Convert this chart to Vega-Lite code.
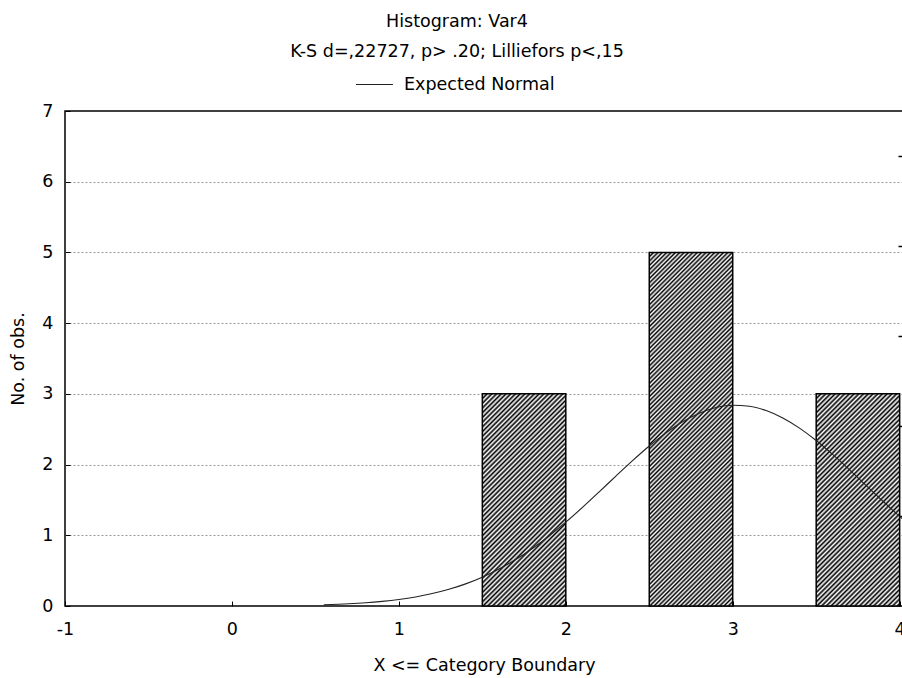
{
  "$schema": "https://vega.github.io/schema/vega-lite/v6.json",
  "width": 838,
  "height": 495,
  "autosize": {"type": "none"},
  "padding": {"left": 65, "top": 111, "right": 0, "bottom": 72},
  "background": "white",
  "config": {
    "font": "DejaVu Sans",
    "view": {"stroke": "#000", "strokeWidth": 1.5}
  },
  "title": {
    "text": "Histogram: Var4",
    "subtitle": "K-S d=,22727, p> .20; Lilliefors p<,15",
    "anchor": "middle",
    "dx": -27,
    "fontSize": 17.5,
    "fontWeight": "normal",
    "subtitleFontSize": 17.5,
    "color": "#000",
    "subtitleColor": "#000",
    "subtitlePadding": 12,
    "offset": 5
  },
  "datasets": {
    "bars": [
      {"x0": 1.5, "x1": 2, "count": 3},
      {"x0": 2.5, "x1": 3, "count": 5},
      {"x0": 3.5, "x1": 4, "count": 3}
    ],
    "curve": [
      {"x": 0.55, "y": 0.017}, {"x": 0.7, "y": 0.031}, {"x": 0.8, "y": 0.045},
      {"x": 0.9, "y": 0.065}, {"x": 1.0, "y": 0.092}, {"x": 1.1, "y": 0.128},
      {"x": 1.2, "y": 0.176}, {"x": 1.3, "y": 0.236}, {"x": 1.4, "y": 0.313},
      {"x": 1.5, "y": 0.407}, {"x": 1.6, "y": 0.522}, {"x": 1.7, "y": 0.657},
      {"x": 1.8, "y": 0.813}, {"x": 1.9, "y": 0.99}, {"x": 2.0, "y": 1.185},
      {"x": 2.1, "y": 1.395}, {"x": 2.2, "y": 1.614}, {"x": 2.3, "y": 1.837},
      {"x": 2.4, "y": 2.056}, {"x": 2.5, "y": 2.263}, {"x": 2.6, "y": 2.449},
      {"x": 2.7, "y": 2.606}, {"x": 2.8, "y": 2.727}, {"x": 2.9, "y": 2.806},
      {"x": 3.0, "y": 2.839}, {"x": 3.1, "y": 2.825}, {"x": 3.2, "y": 2.764},
      {"x": 3.3, "y": 2.659}, {"x": 3.4, "y": 2.515}, {"x": 3.5, "y": 2.34},
      {"x": 3.6, "y": 2.14}, {"x": 3.7, "y": 1.925}, {"x": 3.8, "y": 1.703},
      {"x": 3.9, "y": 1.481}, {"x": 4.0, "y": 1.267}, {"x": 4.1, "y": 1.066}
    ]
  },
  "layer": [
    {
      "data": {"name": "bars"},
      "transform": [{"filter": "datum.count == 3"}],
      "mark": {
        "type": "rect",
        "stroke": "#000",
        "strokeWidth": 1.5,
        "fill": {
          "gradient": "linear", "x1": 0, "y1": 0, "x2": 0.47479, "y2": 1.20666,
          "stops": [
            {"offset":0,"color":"#000"},{"offset":0.008,"color":"#fff"},{"offset":0.016,"color":"#000"},{"offset":0.024,"color":"#fff"},
            {"offset":0.032,"color":"#000"},{"offset":0.04,"color":"#fff"},{"offset":0.048,"color":"#000"},{"offset":0.056,"color":"#fff"},
            {"offset":0.064,"color":"#000"},{"offset":0.072,"color":"#fff"},{"offset":0.08,"color":"#000"},{"offset":0.088,"color":"#fff"},
            {"offset":0.096,"color":"#000"},{"offset":0.104,"color":"#fff"},{"offset":0.112,"color":"#000"},{"offset":0.12,"color":"#fff"},
            {"offset":0.128,"color":"#000"},{"offset":0.136,"color":"#fff"},{"offset":0.144,"color":"#000"},{"offset":0.152,"color":"#fff"},
            {"offset":0.16,"color":"#000"},{"offset":0.168,"color":"#fff"},{"offset":0.176,"color":"#000"},{"offset":0.184,"color":"#fff"},
            {"offset":0.192,"color":"#000"},{"offset":0.2,"color":"#fff"},{"offset":0.208,"color":"#000"},{"offset":0.216,"color":"#fff"},
            {"offset":0.224,"color":"#000"},{"offset":0.232,"color":"#fff"},{"offset":0.24,"color":"#000"},{"offset":0.248,"color":"#fff"},
            {"offset":0.256,"color":"#000"},{"offset":0.264,"color":"#fff"},{"offset":0.272,"color":"#000"},{"offset":0.28,"color":"#fff"},
            {"offset":0.288,"color":"#000"},{"offset":0.296,"color":"#fff"},{"offset":0.304,"color":"#000"},{"offset":0.312,"color":"#fff"},
            {"offset":0.32,"color":"#000"},{"offset":0.328,"color":"#fff"},{"offset":0.336,"color":"#000"},{"offset":0.344,"color":"#fff"},
            {"offset":0.352,"color":"#000"},{"offset":0.36,"color":"#fff"},{"offset":0.368,"color":"#000"},{"offset":0.376,"color":"#fff"},
            {"offset":0.384,"color":"#000"},{"offset":0.392,"color":"#fff"},{"offset":0.4,"color":"#000"},{"offset":0.408,"color":"#fff"},
            {"offset":0.416,"color":"#000"},{"offset":0.424,"color":"#fff"},{"offset":0.432,"color":"#000"},{"offset":0.44,"color":"#fff"},
            {"offset":0.448,"color":"#000"},{"offset":0.456,"color":"#fff"},{"offset":0.464,"color":"#000"},{"offset":0.472,"color":"#fff"},
            {"offset":0.48,"color":"#000"},{"offset":0.488,"color":"#fff"},{"offset":0.496,"color":"#000"},{"offset":0.504,"color":"#fff"},
            {"offset":0.512,"color":"#000"},{"offset":0.52,"color":"#fff"},{"offset":0.528,"color":"#000"},{"offset":0.536,"color":"#fff"},
            {"offset":0.544,"color":"#000"},{"offset":0.552,"color":"#fff"},{"offset":0.56,"color":"#000"},{"offset":0.568,"color":"#fff"},
            {"offset":0.576,"color":"#000"},{"offset":0.584,"color":"#fff"},{"offset":0.592,"color":"#000"},{"offset":0.6,"color":"#fff"},
            {"offset":0.608,"color":"#000"},{"offset":0.616,"color":"#fff"},{"offset":0.624,"color":"#000"},{"offset":0.632,"color":"#fff"},
            {"offset":0.64,"color":"#000"},{"offset":0.648,"color":"#fff"},{"offset":0.656,"color":"#000"},{"offset":0.664,"color":"#fff"},
            {"offset":0.672,"color":"#000"},{"offset":0.68,"color":"#fff"},{"offset":0.688,"color":"#000"},{"offset":0.696,"color":"#fff"},
            {"offset":0.704,"color":"#000"},{"offset":0.712,"color":"#fff"},{"offset":0.72,"color":"#000"},{"offset":0.728,"color":"#fff"},
            {"offset":0.736,"color":"#000"},{"offset":0.744,"color":"#fff"},{"offset":0.752,"color":"#000"},{"offset":0.76,"color":"#fff"},
            {"offset":0.768,"color":"#000"},{"offset":0.776,"color":"#fff"},{"offset":0.784,"color":"#000"},{"offset":0.792,"color":"#fff"},
            {"offset":0.8,"color":"#000"},{"offset":0.808,"color":"#fff"},{"offset":0.816,"color":"#000"},{"offset":0.824,"color":"#fff"},
            {"offset":0.832,"color":"#000"},{"offset":0.84,"color":"#fff"},{"offset":0.848,"color":"#000"},{"offset":0.856,"color":"#fff"},
            {"offset":0.864,"color":"#000"},{"offset":0.872,"color":"#fff"},{"offset":0.88,"color":"#000"},{"offset":0.888,"color":"#fff"},
            {"offset":0.896,"color":"#000"},{"offset":0.904,"color":"#fff"},{"offset":0.912,"color":"#000"},{"offset":0.92,"color":"#fff"},
            {"offset":0.928,"color":"#000"},{"offset":0.936,"color":"#fff"},{"offset":0.944,"color":"#000"},{"offset":0.952,"color":"#fff"},
            {"offset":0.96,"color":"#000"},{"offset":0.968,"color":"#fff"},{"offset":0.976,"color":"#000"},{"offset":0.984,"color":"#fff"},
            {"offset":0.992,"color":"#000"},{"offset":1,"color":"#fff"}
          ]
        }
      },
      "encoding": {
        "x": {
          "field": "x0", "type": "quantitative",
          "scale": {"domain": [-1, 4.02], "nice": false, "zero": false},
          "axis": {
            "title": "X <= Category Boundary",
            "values": [-1, 0, 1, 2, 3, 4],
            "labelExpr": "datum.value < 0 ? '-' + abs(datum.value) : '' + datum.value",
            "grid": false,
            "domain": false,
            "tickSize": -5,
            "tickColor": "#000",
            "labelFontSize": 17.5,
            "labelColor": "#000",
            "labelPadding": 19,
            "labelFlush": false,
            "titleFontSize": 17.5,
            "titleFontWeight": "normal",
            "titleColor": "#000",
            "titleY": 59,
            "titleBaseline": "middle"
          }
        },
        "x2": {"field": "x1"},
        "y": {
          "field": "count", "type": "quantitative",
          "scale": {"domain": [0, 7], "nice": false},
          "axis": {
            "title": "No. of obs.",
            "values": [0, 1, 2, 3, 4, 5, 6, 7],
            "format": "d",
            "domain": false,
            "tickSize": -5,
            "tickColor": "#000",
            "labelFontSize": 17.5,
            "labelColor": "#000",
            "labelPadding": 17,
            "grid": true,
            "gridColor": "#999",
            "gridDash": [2, 2],
            "gridOpacity": {"condition": {"test": "datum.value === 0 || datum.value === 7", "value": 0}, "value": 1},
            "titleFontSize": 17.5,
            "titleFontWeight": "normal",
            "titleColor": "#000",
            "titleAngle": -90,
            "titleX": -47,
            "titleY": 247.5,
            "titleAlign": "center",
            "titleBaseline": "middle"
          }
        },
        "y2": {"datum": 0}
      }
    },
    {
      "data": {"name": "bars"},
      "transform": [{"filter": "datum.count == 5"}],
      "mark": {
        "type": "rect",
        "stroke": "#000",
        "strokeWidth": 1.5,
        "fill": {
          "gradient": "linear", "x1": 0, "y1": 0, "x2": 0.27641, "y2": 1.17083,
          "stops": [
            {"offset":0,"color":"#000"},{"offset":0.005,"color":"#fff"},{"offset":0.01,"color":"#000"},{"offset":0.015,"color":"#fff"},
            {"offset":0.02,"color":"#000"},{"offset":0.025,"color":"#fff"},{"offset":0.03,"color":"#000"},{"offset":0.035,"color":"#fff"},
            {"offset":0.04,"color":"#000"},{"offset":0.045,"color":"#fff"},{"offset":0.05,"color":"#000"},{"offset":0.055,"color":"#fff"},
            {"offset":0.06,"color":"#000"},{"offset":0.065,"color":"#fff"},{"offset":0.07,"color":"#000"},{"offset":0.075,"color":"#fff"},
            {"offset":0.08,"color":"#000"},{"offset":0.085,"color":"#fff"},{"offset":0.09,"color":"#000"},{"offset":0.095,"color":"#fff"},
            {"offset":0.1,"color":"#000"},{"offset":0.105,"color":"#fff"},{"offset":0.11,"color":"#000"},{"offset":0.115,"color":"#fff"},
            {"offset":0.12,"color":"#000"},{"offset":0.125,"color":"#fff"},{"offset":0.13,"color":"#000"},{"offset":0.135,"color":"#fff"},
            {"offset":0.14,"color":"#000"},{"offset":0.145,"color":"#fff"},{"offset":0.15,"color":"#000"},{"offset":0.155,"color":"#fff"},
            {"offset":0.16,"color":"#000"},{"offset":0.165,"color":"#fff"},{"offset":0.17,"color":"#000"},{"offset":0.175,"color":"#fff"},
            {"offset":0.18,"color":"#000"},{"offset":0.185,"color":"#fff"},{"offset":0.19,"color":"#000"},{"offset":0.195,"color":"#fff"},
            {"offset":0.2,"color":"#000"},{"offset":0.205,"color":"#fff"},{"offset":0.21,"color":"#000"},{"offset":0.215,"color":"#fff"},
            {"offset":0.22,"color":"#000"},{"offset":0.225,"color":"#fff"},{"offset":0.23,"color":"#000"},{"offset":0.235,"color":"#fff"},
            {"offset":0.24,"color":"#000"},{"offset":0.245,"color":"#fff"},{"offset":0.25,"color":"#000"},{"offset":0.255,"color":"#fff"},
            {"offset":0.26,"color":"#000"},{"offset":0.265,"color":"#fff"},{"offset":0.27,"color":"#000"},{"offset":0.275,"color":"#fff"},
            {"offset":0.28,"color":"#000"},{"offset":0.285,"color":"#fff"},{"offset":0.29,"color":"#000"},{"offset":0.295,"color":"#fff"},
            {"offset":0.3,"color":"#000"},{"offset":0.305,"color":"#fff"},{"offset":0.31,"color":"#000"},{"offset":0.315,"color":"#fff"},
            {"offset":0.32,"color":"#000"},{"offset":0.325,"color":"#fff"},{"offset":0.33,"color":"#000"},{"offset":0.335,"color":"#fff"},
            {"offset":0.34,"color":"#000"},{"offset":0.345,"color":"#fff"},{"offset":0.35,"color":"#000"},{"offset":0.355,"color":"#fff"},
            {"offset":0.36,"color":"#000"},{"offset":0.365,"color":"#fff"},{"offset":0.37,"color":"#000"},{"offset":0.375,"color":"#fff"},
            {"offset":0.38,"color":"#000"},{"offset":0.385,"color":"#fff"},{"offset":0.39,"color":"#000"},{"offset":0.395,"color":"#fff"},
            {"offset":0.4,"color":"#000"},{"offset":0.405,"color":"#fff"},{"offset":0.41,"color":"#000"},{"offset":0.415,"color":"#fff"},
            {"offset":0.42,"color":"#000"},{"offset":0.425,"color":"#fff"},{"offset":0.43,"color":"#000"},{"offset":0.435,"color":"#fff"},
            {"offset":0.44,"color":"#000"},{"offset":0.445,"color":"#fff"},{"offset":0.45,"color":"#000"},{"offset":0.455,"color":"#fff"},
            {"offset":0.46,"color":"#000"},{"offset":0.465,"color":"#fff"},{"offset":0.47,"color":"#000"},{"offset":0.475,"color":"#fff"},
            {"offset":0.48,"color":"#000"},{"offset":0.485,"color":"#fff"},{"offset":0.49,"color":"#000"},{"offset":0.495,"color":"#fff"},
            {"offset":0.5,"color":"#000"},{"offset":0.505,"color":"#fff"},{"offset":0.51,"color":"#000"},{"offset":0.515,"color":"#fff"},
            {"offset":0.52,"color":"#000"},{"offset":0.525,"color":"#fff"},{"offset":0.53,"color":"#000"},{"offset":0.535,"color":"#fff"},
            {"offset":0.54,"color":"#000"},{"offset":0.545,"color":"#fff"},{"offset":0.55,"color":"#000"},{"offset":0.555,"color":"#fff"},
            {"offset":0.56,"color":"#000"},{"offset":0.565,"color":"#fff"},{"offset":0.57,"color":"#000"},{"offset":0.575,"color":"#fff"},
            {"offset":0.58,"color":"#000"},{"offset":0.585,"color":"#fff"},{"offset":0.59,"color":"#000"},{"offset":0.595,"color":"#fff"},
            {"offset":0.6,"color":"#000"},{"offset":0.605,"color":"#fff"},{"offset":0.61,"color":"#000"},{"offset":0.615,"color":"#fff"},
            {"offset":0.62,"color":"#000"},{"offset":0.625,"color":"#fff"},{"offset":0.63,"color":"#000"},{"offset":0.635,"color":"#fff"},
            {"offset":0.64,"color":"#000"},{"offset":0.645,"color":"#fff"},{"offset":0.65,"color":"#000"},{"offset":0.655,"color":"#fff"},
            {"offset":0.66,"color":"#000"},{"offset":0.665,"color":"#fff"},{"offset":0.67,"color":"#000"},{"offset":0.675,"color":"#fff"},
            {"offset":0.68,"color":"#000"},{"offset":0.685,"color":"#fff"},{"offset":0.69,"color":"#000"},{"offset":0.695,"color":"#fff"},
            {"offset":0.7,"color":"#000"},{"offset":0.705,"color":"#fff"},{"offset":0.71,"color":"#000"},{"offset":0.715,"color":"#fff"},
            {"offset":0.72,"color":"#000"},{"offset":0.725,"color":"#fff"},{"offset":0.73,"color":"#000"},{"offset":0.735,"color":"#fff"},
            {"offset":0.74,"color":"#000"},{"offset":0.745,"color":"#fff"},{"offset":0.75,"color":"#000"},{"offset":0.755,"color":"#fff"},
            {"offset":0.76,"color":"#000"},{"offset":0.765,"color":"#fff"},{"offset":0.77,"color":"#000"},{"offset":0.775,"color":"#fff"},
            {"offset":0.78,"color":"#000"},{"offset":0.785,"color":"#fff"},{"offset":0.79,"color":"#000"},{"offset":0.795,"color":"#fff"},
            {"offset":0.8,"color":"#000"},{"offset":0.805,"color":"#fff"},{"offset":0.81,"color":"#000"},{"offset":0.815,"color":"#fff"},
            {"offset":0.82,"color":"#000"},{"offset":0.825,"color":"#fff"},{"offset":0.83,"color":"#000"},{"offset":0.835,"color":"#fff"},
            {"offset":0.84,"color":"#000"},{"offset":0.845,"color":"#fff"},{"offset":0.85,"color":"#000"},{"offset":0.855,"color":"#fff"},
            {"offset":0.86,"color":"#000"},{"offset":0.865,"color":"#fff"},{"offset":0.87,"color":"#000"},{"offset":0.875,"color":"#fff"},
            {"offset":0.88,"color":"#000"},{"offset":0.885,"color":"#fff"},{"offset":0.89,"color":"#000"},{"offset":0.895,"color":"#fff"},
            {"offset":0.9,"color":"#000"},{"offset":0.905,"color":"#fff"},{"offset":0.91,"color":"#000"},{"offset":0.915,"color":"#fff"},
            {"offset":0.92,"color":"#000"},{"offset":0.925,"color":"#fff"},{"offset":0.93,"color":"#000"},{"offset":0.935,"color":"#fff"},
            {"offset":0.94,"color":"#000"},{"offset":0.945,"color":"#fff"},{"offset":0.95,"color":"#000"},{"offset":0.955,"color":"#fff"},
            {"offset":0.96,"color":"#000"},{"offset":0.965,"color":"#fff"},{"offset":0.97,"color":"#000"},{"offset":0.975,"color":"#fff"},
            {"offset":0.98,"color":"#000"},{"offset":0.985,"color":"#fff"},{"offset":0.99,"color":"#000"},{"offset":0.995,"color":"#fff"},
            {"offset":1,"color":"#000"}
          ]
        }
      },
      "encoding": {
        "x": {"field": "x0", "type": "quantitative", "scale": {"domain": [-1, 4.02], "nice": false, "zero": false}},
        "x2": {"field": "x1"},
        "y": {"field": "count", "type": "quantitative", "scale": {"domain": [0, 7], "nice": false}, "axis": null},
        "y2": {"datum": 0}
      }
    },
    {
      "data": {"name": "curve"},
      "mark": {"type": "line", "strokeWidth": 1.1, "interpolate": "monotone", "clip": true},
      "encoding": {
        "x": {"field": "x", "type": "quantitative", "scale": {"domain": [-1, 4.02], "nice": false, "zero": false}},
        "y": {
          "field": "y", "type": "quantitative",
          "scale": {"domain": [0, 7], "nice": false},
          "axis": {
            "orient": "right",
            "title": null,
            "values": [1.27, 2.55, 3.82, 5.09, 6.36],
            "labels": false,
            "grid": false,
            "domain": false,
            "tickSize": -5,
            "tickColor": "#000",
            "tickWidth": 1.5
          }
        },
        "color": {
          "datum": "Expected Normal",
          "type": "nominal",
          "scale": {"range": ["#222"]},
          "legend": {
            "orient": "none",
            "legendX": 290,
            "legendY": -46,
            "title": null,
            "symbolType": "stroke",
            "symbolSize": 1369,
            "symbolStrokeWidth": 1.2,
            "labelFontSize": 17.5,
            "labelColor": "#000",
            "labelOffset": 10
          }
        }
      }
    }
  ],
  "resolve": {"axis": {"y": "independent"}}
}
